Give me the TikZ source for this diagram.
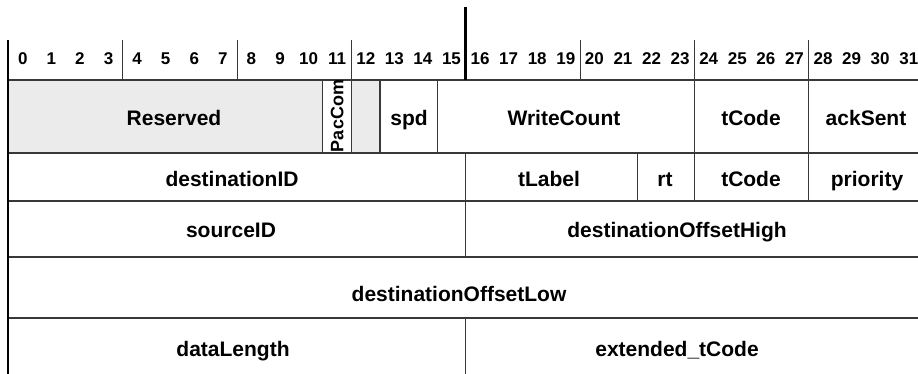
\documentclass[tikz,border=0pt]{standalone}
\usepackage{fontspec}
\setmainfont{Liberation Sans}
\begin{document}
\begin{tikzpicture}[x=1pt,y=-1pt,
  thinline/.style={draw=black!78,line width=1.1pt},
  thickline/.style={draw=black,line width=2.6pt},
  field/.style={font=\bfseries\fontsize{21}{24}\selectfont,inner sep=0pt,anchor=base},
  bitnum/.style={font=\bfseries\fontsize{17}{19}\selectfont,inner sep=0pt,anchor=base},
  rotfield/.style={font=\bfseries\fontsize{18}{20}\selectfont,inner sep=0pt,rotate=90,anchor=center},
  grayfill/.style={fill=black!8}]
\useasboundingbox (0,0) rectangle (918,374);
% shaded reserved areas
\fill[grayfill] (8.5,80) rectangle ({8.5+28.58*11},153);
\fill[grayfill] ({8.5+28.58*12},80) rectangle ({8.5+28.58*13},153);
% horizontal rules
\foreach \y in {80,153,201,257,318} \draw[thinline] (8,\y) -- (918,\y);
% header nibble separators
\foreach \b in {4,8,12,20,24,28} \draw[thinline] ({8.5+28.58*\b},40) -- ({8.5+28.58*\b},80);
% bit numbers
\foreach \b in {0,...,31} \node[bitnum] (bit\b) at ({8.5+28.58*(\b+0.5)},65) {\b};
% row 1 separators
\foreach \b in {11,12,13,15,24,28} \draw[thinline] ({8.5+28.58*\b},80) -- ({8.5+28.58*\b},153);
% row 2 separators
\foreach \b in {16,22,24,28} \draw[thinline] ({8.5+28.58*\b},153) -- ({8.5+28.58*\b},201);
% row 3 and row 5 separators
\draw[thinline] ({8.5+28.58*16},201) -- ({8.5+28.58*16},257);
\draw[thinline] ({8.5+28.58*16},318) -- ({8.5+28.58*16},374);
% thick lines
\draw[thickline] ({8.5+28.58*16},7) -- ({8.5+28.58*16},80);
\draw[thickline] (8,40) -- (8,374);
% row 1 labels
\node[field] (reserved) at (174,126) {Reserved};
\node[rotfield] (paccom) at ({8.5+28.58*11.5},116) {PacCom};
\node[field] (spd) at (409,126) {spd};
\node[field] (writecount) at (564,126) {WriteCount};
\node[field] (tcodeA) at (751,126) {tCode};
\node[field] (acksent) at (866,126) {ackSent};
% row 2 labels
\node[field] (destid) at (232,187) {destinationID};
\node[field] (tlabel) at (549,187) {tLabel};
\node[field] (rt) at (665,187) {rt};
\node[field] (tcodeB) at (751,187) {tCode};
\node[field] (priority) at (867,187) {priority};
% row 3 labels
\node[field] (srcid) at (231,237.5) {sourceID};
\node[field] (doh) at (677,237.5) {destinationOffsetHigh};
% row 4 label
\node[field] (dol) at (459,301.5) {destinationOffsetLow};
% row 5 labels
\node[field] (datalen) at (233,356) {dataLength};
\node[field] (exttcode) at (677,356) {extended\_tCode};
\end{tikzpicture}
\end{document}
